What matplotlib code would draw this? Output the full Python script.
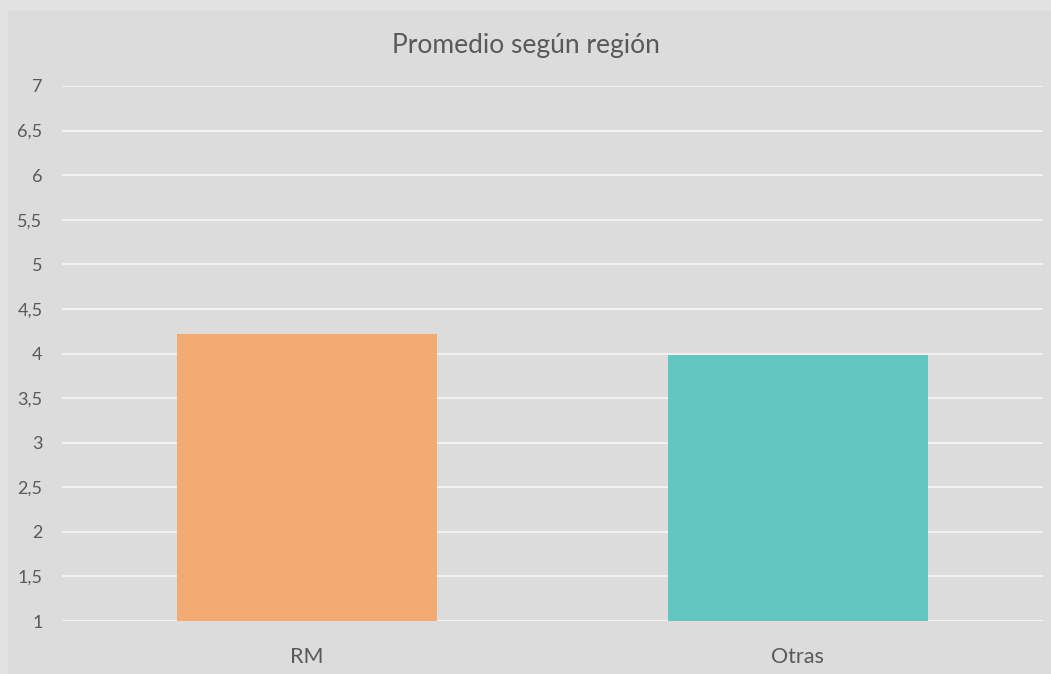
import numpy as np
import matplotlib.pyplot as plt

# datos
regiones = ['RM', 'Otras']
promedios = [4.22, 3.98]
colores = ['#f3ab74', '#63c6c0']
yticks = np.arange(1, 7.01, 0.5)
ylabels = [('%g' % v).replace('.', ',') for v in yticks]

plt.rcParams['font.family'] = ['Lato', 'DejaVu Sans']

fig = plt.figure(figsize=(10.51, 6.74), dpi=100)
fig.patch.set_facecolor('#e2e2e2')

# panel interior
bg = fig.add_axes([8 / 1051, 0, 1 - 8 / 1051, 1 - 11 / 674], zorder=0)
bg.set_facecolor('#dcdcdc')
bg.set_xticks([])
bg.set_yticks([])
for s in bg.spines.values():
    s.set_visible(False)

ax = fig.add_axes([62 / 1051, 1 - 621 / 674, 981 / 1051, (621 - 86) / 674], zorder=1)
ax.set_facecolor('none')

x = np.arange(len(regiones))
ax.bar(x, np.array(promedios) - 1, bottom=1, width=0.53, color=colores, zorder=3)

ax.set_xlim(-0.5, 1.5)
ax.set_ylim(1, 7)
ax.set_yticks(yticks)
ax.set_yticklabels(ylabels)
ax.set_xticks(x)
ax.set_xticklabels(regiones)

ax.grid(axis='y', color='#f2f2f2', linewidth=1.4, zorder=1)
ax.set_axisbelow(True)
for s in ax.spines.values():
    s.set_visible(False)
ax.tick_params(axis='y', length=0, pad=14, labelsize=13, labelcolor='#595959')
ax.tick_params(axis='x', length=0, pad=19, labelsize=15.5, labelcolor='#595959')

fig.text(0.5, 1 - 45 / 674, 'Promedio según región', ha='center', va='center',
         fontsize=19, color='#595959')

fig.savefig('out.png', dpi=100, facecolor=fig.get_facecolor())
